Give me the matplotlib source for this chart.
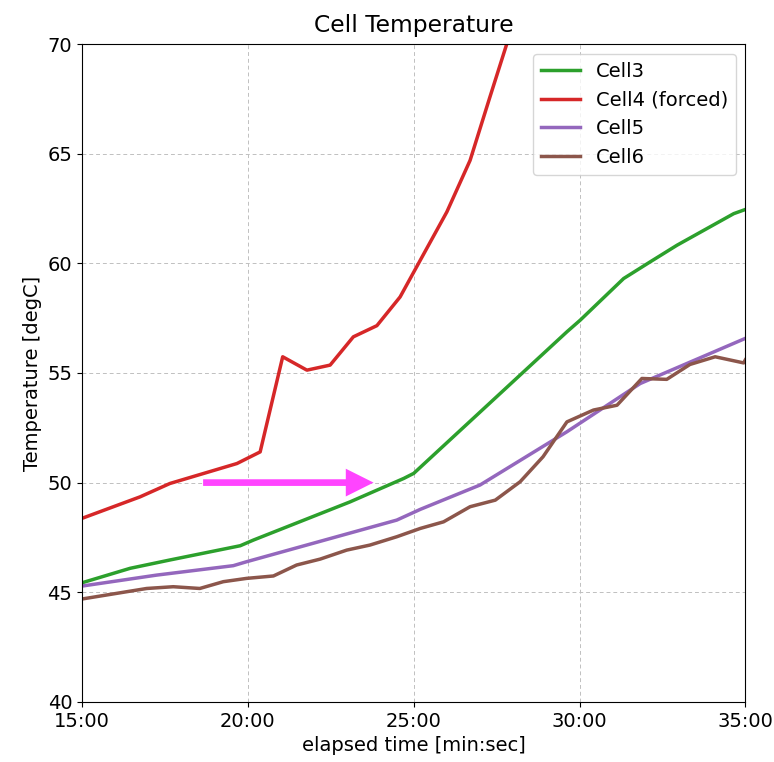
import numpy as np
import matplotlib
matplotlib.use("Agg")
from matplotlib import pyplot as plt
from matplotlib.ticker import FuncFormatter

# elapsed time in minutes, temperatures in degC
t_cell3 = [15.0, 16.45, 17.65, 19.77, 20.17, 23.08, 24.7, 25.0, 29.62, 30.02,
           31.33, 32.13, 32.94, 34.65, 35.0]
cell3 = [45.43, 46.09, 46.47, 47.12, 47.38, 49.12, 50.19, 50.42, 56.88, 57.41,
         59.31, 60.07, 60.83, 62.27, 62.46]

t_cell4 = [15.0, 16.75, 17.65, 19.67, 20.37, 21.05, 21.78, 22.48, 23.18, 23.89,
           24.59, 25.2, 26.0, 26.7, 27.3, 27.81, 28.4]
cell4 = [48.37, 49.35, 49.96, 50.87, 51.4, 55.74, 55.13, 55.36, 56.65, 57.16,
         58.47, 60.15, 62.35, 64.7, 67.6, 70.03, 73.0]

t_cell5 = [15.0, 17.25, 19.56, 19.96, 24.49, 25.2, 27.0, 29.62, 31.83, 35.0]
cell5 = [45.28, 45.78, 46.21, 46.39, 48.29, 48.78, 49.89, 52.32, 54.52, 56.58]

t_cell6 = [15.0, 16.95, 17.75, 18.55, 19.26, 19.96, 20.77, 21.47, 22.18, 22.98,
           23.68, 24.49, 25.2, 25.9, 26.7, 27.46, 28.21, 28.9, 29.62, 30.42,
           31.13, 31.88, 32.63, 33.33, 34.09, 34.95, 35.0]
cell6 = [44.69, 45.17, 45.25, 45.17, 45.48, 45.63, 45.74, 46.24, 46.51, 46.92,
         47.15, 47.53, 47.91, 48.21, 48.9, 49.2, 50.04, 51.18, 52.77, 53.31,
         53.53, 54.75, 54.71, 55.39, 55.74, 55.46, 55.6]

arrow_start = (18.65, 50.0)
arrow_end = (23.79, 50.0)

plt.rcParams['font.size'] = 14
fig = plt.figure(figsize=(7.74, 7.62), dpi=100)
ax = fig.add_axes([0.106, 0.079, 0.857, 0.863])

lw = 2.5
ax.plot(t_cell3, cell3, color='tab:green', lw=lw, label='Cell3')
ax.plot(t_cell4, cell4, color='tab:red', lw=lw, label='Cell4 (forced)')
ax.plot(t_cell5, cell5, color='tab:purple', lw=lw, label='Cell5')
ax.plot(t_cell6, cell6, color='tab:brown', lw=lw, label='Cell6')

ax.annotate('', xy=arrow_end, xytext=arrow_start,
            arrowprops=dict(arrowstyle='simple,head_length=2.0,head_width=2.0,tail_width=0.48',
                            lw=0, color='#ff44ff', mutation_scale=10,
                            shrinkA=0, shrinkB=0))

ax.set_xlim(15, 35)
ax.set_ylim(40, 70)
ax.set_xticks([15, 20, 25, 30, 35])
ax.xaxis.set_major_formatter(FuncFormatter(lambda v, p: "%d:%02d" % (int(v), round((v - int(v)) * 60))))
ax.grid(True, linestyle=(0, (4, 3)), color='#c0c0c0', lw=0.7)
ax.set_title('Cell Temperature', fontsize=16.8, pad=8.5)
ax.set_xlabel('elapsed time [min:sec]')
ax.set_ylabel('Temperature [degC]')
ax.legend(loc='upper right')

fig.savefig('out.png', dpi=100)
